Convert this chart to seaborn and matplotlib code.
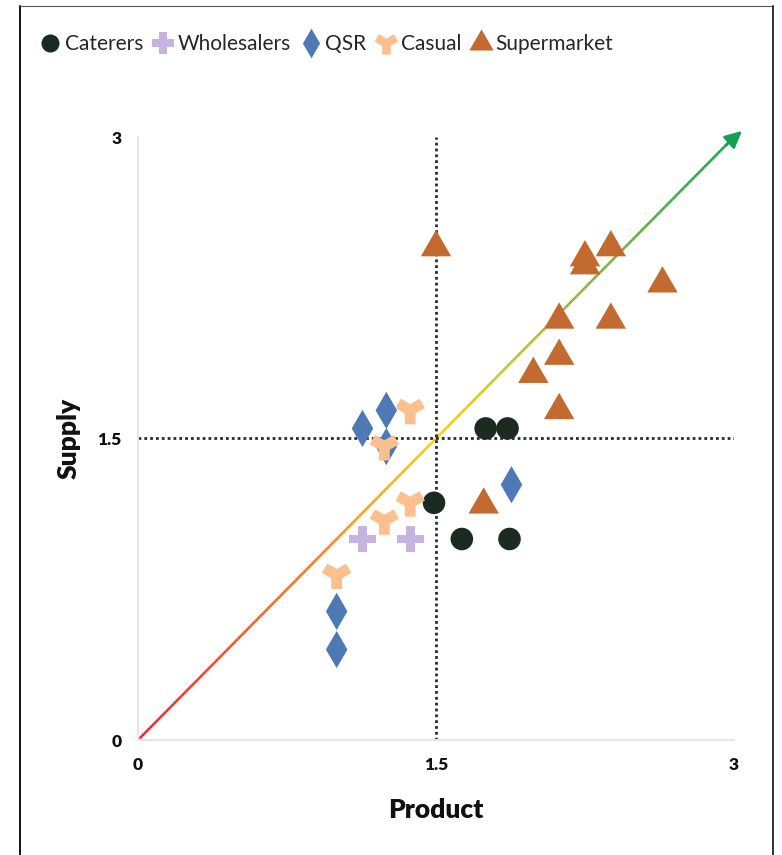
import numpy as np
import pandas as pd
import matplotlib
matplotlib.use("Agg")
import matplotlib.pyplot as plt
import seaborn as sns
from matplotlib.collections import LineCollection
from matplotlib.colors import LinearSegmentedColormap
from matplotlib.lines import Line2D

# ---------------- data ----------------
categories = ["Caterers", "Wholesalers", "QSR", "Casual", "Supermarket"]
colors = ["#1c2b22", "#c5b3e0", "#4e79b5", "#fcc08f", "#c26a30"]

caterers_x = [1.75, 1.86, 1.49, 1.63, 1.87]
caterers_y = [1.55, 1.55, 1.18, 1.00, 1.00]

wholesalers_x = [1.13, 1.37]
wholesalers_y = [1.00, 1.00]

qsr_x = [1.13, 1.25, 1.25, 1.88, 1.00, 1.00]
qsr_y = [1.55, 1.64, 1.46, 1.27, 0.64, 0.45]

casual_x = [1.37, 1.24, 1.37, 1.24, 1.00]
casual_y = [1.64, 1.46, 1.18, 1.09, 0.82]

supermarket_x = [1.50, 2.25, 2.25, 2.38, 2.64, 2.12, 2.38, 2.12, 1.99, 2.12, 1.74]
supermarket_y = [2.45, 2.40, 2.36, 2.45, 2.27, 2.09, 2.09, 1.91, 1.82, 1.64, 1.17]

tick_values = [0, 1.5, 3]
tick_labels = ["0", "1.5", "3"]
x_label = "Product"
y_label = "Supply"

# ---------------- d3-like symbols (px units, y up) ----------------
S = 400.0  # symbol area in px^2


def cross_verts(size):
    r = np.sqrt(size / 5) / 2
    v = [(-3*r, -r), (-r, -r), (-r, -3*r), (r, -3*r), (r, -r), (3*r, -r),
         (3*r, r), (r, r), (r, 3*r), (-r, 3*r), (-r, r), (-3*r, r)]
    return np.array(v)


def diamond_verts(size):
    t = np.sqrt(1 / 3)
    y = np.sqrt(size / (2 * t))
    x = y * t
    return np.array([(0, y), (x, 0), (0, -y), (-x, 0)])


def wye_verts(size):
    c = -0.5
    s = np.sqrt(3) / 2
    k = 1 / np.sqrt(12)
    a = (k / 2 + 1) * 3
    r = np.sqrt(size / a)
    x0, y0 = r / 2, r * k
    x1, y1 = x0, r * k + r
    x2, y2 = -x1, y1
    pts = [(x0, y0), (x1, y1), (x2, y2),
           (c*x0 - s*y0, s*x0 + c*y0), (c*x1 - s*y1, s*x1 + c*y1), (c*x2 - s*y2, s*x2 + c*y2),
           (c*x0 + s*y0, c*y0 - s*x0), (c*x1 + s*y1, c*y1 - s*x1), (c*x2 + s*y2, c*y2 - s*x2)]
    pts = np.array(pts)
    pts[:, 1] *= -1  # d3 y is downward
    return pts


def triangle_verts(size):
    y = -np.sqrt(size / (np.sqrt(3) * 3))
    pts = np.array([(0, y * 2), (-np.sqrt(3) * y, -y), (np.sqrt(3) * y, -y)])
    pts[:, 1] *= -1
    return pts


DPI = 100
PX2PT = 72 / DPI

marker_defs = {
    "Caterers": ("o", 2 * np.sqrt(S / np.pi)),
    "Wholesalers": (cross_verts(S), None),
    "QSR": (diamond_verts(S), None),
    "Casual": (wye_verts(S), None),
    "Supermarket": (triangle_verts(S), None),
}

markers = {}
ms_pt = {}
for cat, (m, diam) in marker_defs.items():
    markers[cat] = m
    if isinstance(m, str):
        ms_pt[cat] = diam * PX2PT
    else:
        ms_pt[cat] = 2 * np.max(np.abs(m)) * PX2PT
sizes = {cat: ms_pt[cat] ** 2 for cat in categories}
palette = dict(zip(categories, colors))

xs = [caterers_x, wholesalers_x, qsr_x, casual_x, supermarket_x]
ys = [caterers_y, wholesalers_y, qsr_y, casual_y, supermarket_y]
df = pd.concat([pd.DataFrame({"Product": x, "Supply": y, "Segment": c})
                for x, y, c in zip(xs, ys, categories)], ignore_index=True)

# ---------------- figure ----------------
sns.set_theme(style="white")
plt.rcParams["font.family"] = ["Lato", "DejaVu Sans"]

fig = plt.figure(figsize=(7.82, 8.55), dpi=DPI)
ax = fig.add_axes([138 / 782, 115 / 855, 596 / 782, 603 / 855])

# gradient diagonal
n = 300
t = np.linspace(0, 3, n)
pts = np.column_stack([t, t]).reshape(-1, 1, 2)
segs = np.concatenate([pts[:-1], pts[1:]], axis=1)
cmap = LinearSegmentedColormap.from_list(
    "grad", [(0, "#e8232b"), (0.3, "#f57f20"), (0.5, "#f6d10c"), (0.75, "#8db53a"), (1, "#13a052")])
lc = LineCollection(segs, cmap=cmap, linewidths=1.9, zorder=1, capstyle="butt")
lc.set_array(np.linspace(0, 1, n - 1))
ax.add_collection(lc)
ax.annotate("", xy=(3.04, 3.03), xytext=(2.96, 2.96),
            arrowprops=dict(arrowstyle="-|>,head_length=0.85,head_width=0.42",
                            color="#13a052", lw=1.9, shrinkA=0, shrinkB=0),
            annotation_clip=False, zorder=2)

# dotted reference lines
ax.axvline(1.5, color="#2a2a2a", lw=2.0, ls=(0, (1.0, 1.1)), zorder=1.5)
ax.axhline(1.5, color="#2a2a2a", lw=2.0, ls=(0, (1.0, 1.1)), zorder=1.5)

sns.scatterplot(data=df, x="Product", y="Supply", hue="Segment", style="Segment",
                size="Segment", sizes=sizes, markers=markers, palette=palette,
                hue_order=categories, style_order=categories, size_order=categories,
                linewidth=0, alpha=1, legend=False, ax=ax, zorder=3)

ax.set_xlim(0, 3)
ax.set_ylim(0, 3)
ax.set_xticks(tick_values)
ax.set_xticklabels(tick_labels)
ax.set_yticks(tick_values)
ax.set_yticklabels(tick_labels)
for side in ["top", "right"]:
    ax.spines[side].set_visible(False)
for side in ["left", "bottom"]:
    ax.spines[side].set_color("#e6e6e6")
    ax.spines[side].set_linewidth(1.6)
ax.tick_params(axis="both", length=5, width=1.4, color="#e6e6e6", pad=7,
               labelsize=12.5, labelcolor="#111111")
for lbl in ax.get_xticklabels() + ax.get_yticklabels():
    lbl.set_fontweight("heavy")
ax.grid(False)

ax.set_xlabel(x_label, fontsize=19, fontweight="heavy", color="#111111")
ax.set_ylabel(y_label, fontsize=19, fontweight="heavy", color="#111111")
ax.xaxis.set_label_coords(0.5, -0.097)
ax.yaxis.set_label_coords(-0.097, 0.5)

# legend
leg_scale = 0.8
handles = []
for cat in categories:
    handles.append(Line2D([], [], ls="none", marker=markers[cat],
                          markersize=ms_pt[cat] * leg_scale,
                          markerfacecolor=palette[cat], markeredgewidth=0,
                          label=cat))
fig.legend(handles=handles, loc="center left", bbox_to_anchor=(42 / 782, 1 - 44 / 855),
           ncol=5, frameon=False, fontsize=15, handlelength=0.8, handletextpad=0.3,
           columnspacing=0.55, borderaxespad=0, borderpad=0)

# frame border
fig.add_artist(Line2D([20 / 782, 20 / 782], [0, 1 - 6 / 855], transform=fig.transFigure,
                      color="#111111", lw=1.4))
fig.add_artist(Line2D([20 / 782, 773 / 782], [1 - 6 / 855, 1 - 6 / 855], transform=fig.transFigure,
                      color="#555555", lw=0.8))
fig.add_artist(Line2D([773 / 782, 773 / 782], [0, 1 - 6 / 855], transform=fig.transFigure,
                      color="#333333", lw=1.4))

fig.savefig("out.png", dpi=DPI)
